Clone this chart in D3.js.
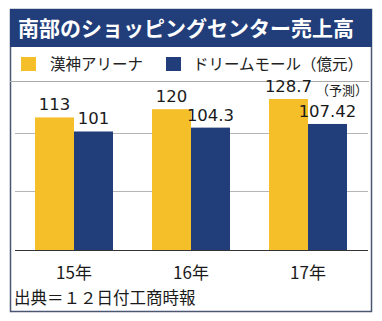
<!DOCTYPE html>
<html>
<head>
<meta charset="utf-8">
<script src="https://cdn.jsdelivr.net/npm/d3@7"></script>
<style>
  body { margin: 0; background: #fff; }
  svg { display: block; font-family: "Noto Sans CJK JP", "Noto Sans", sans-serif; }
</style>
</head>
<body>
<div id="chart"></div>
<script>
var years = ['15年', '16年', '17年'];
var seriesNames = ['漢神アリーナ', 'ドリームモール（億元）'];
var arena = [113, 120, 128.7];
var dream = [101, 104.3, 107.42];
var arenaLabels = ['113', '120', '128.7'];
var dreamLabels = ['101', '104.3', '107.42'];
var gridTicks = [50, 100];

var width = 382;
var height = 321;
var yellow = '#f5bf2a';
var navy = '#213e7b';

var svg = d3.select('#chart')
  .append('svg')
  .attr('width', width)
  .attr('height', height);

// frame and title band
svg.append('rect')
  .attr('x', 10.5).attr('y', 9.5)
  .attr('width', 361).attr('height', 302)
  .attr('fill', '#fff')
  .attr('stroke', '#4a5672')
  .attr('stroke-width', 1.5);

svg.append('rect')
  .attr('x', 10).attr('y', 9)
  .attr('width', 362).attr('height', 38)
  .attr('fill', navy);

svg.append('text')
  .attr('x', 18).attr('y', 36)
  .attr('fill', '#fff')
  .attr('font-size', 21)
  .attr('font-weight', 'bold')
  .text('南部のショッピングセンター売上高');

// legend
var legendX = [21, 166];
var legendTextX = [50, 193];
seriesNames.forEach(function (name, i) {
  svg.append('rect')
    .attr('x', legendX[i]).attr('y', 57)
    .attr('width', 15).attr('height', 14)
    .attr('fill', i === 0 ? yellow : navy);
  svg.append('text')
    .attr('x', legendTextX[i]).attr('y', 70)
    .attr('font-size', 15.5)
    .attr('fill', '#222')
    .text(name);
});

svg.append('line')
  .attr('x1', 10).attr('x2', 369)
  .attr('y1', 81.5).attr('y2', 81.5)
  .attr('stroke', '#aaa');

// scales
var x0 = d3.scaleBand()
  .domain(years)
  .range([15.5, 366.5])
  .paddingInner(1 / 3)
  .paddingOuter(1 / 6);

var x1 = d3.scaleBand()
  .domain([0, 1])
  .range([0, x0.bandwidth()]);

var y = d3.scaleLinear()
  .domain([0, 150])
  .range([250, 74]);

// gridlines
svg.selectAll('.grid')
  .data(gridTicks)
  .enter()
  .append('line')
  .attr('x1', 15).attr('x2', 368)
  .attr('y1', function (d) { return Math.round(y(d)) + 0.5; })
  .attr('y2', function (d) { return Math.round(y(d)) + 0.5; })
  .attr('stroke', '#b5b5b5');

var rows = years.map(function (yr, i) {
  return [
    { year: yr, s: 0, v: arena[i], label: arenaLabels[i] },
    { year: yr, s: 1, v: dream[i], label: dreamLabels[i] }
  ];
});

var groups = svg.selectAll('.group')
  .data(rows)
  .enter()
  .append('g')
  .attr('transform', function (d) { return 'translate(' + x0(d[0].year) + ',0)'; });

groups.selectAll('rect')
  .data(function (d) { return d; })
  .enter()
  .append('rect')
  .attr('x', function (d) { return x1(d.s); })
  .attr('y', function (d) { return y(d.v); })
  .attr('width', x1.bandwidth())
  .attr('height', function (d) { return y(0) - y(d.v); })
  .attr('fill', function (d) { return d.s === 0 ? yellow : navy; });

groups.selectAll('.val')
  .data(function (d) { return d; })
  .enter()
  .append('text')
  .attr('x', function (d) { return x1(d.s) + x1.bandwidth() / 2; })
  .attr('y', function (d) { return y(d.v) - 7; })
  .attr('text-anchor', 'middle')
  .attr('font-size', 16.5)
  .attr('font-family', 'DejaVu Sans, sans-serif')
  .attr('fill', '#1a1a1a')
  .text(function (d) { return d.label; });

svg.append('text')
  .attr('x', 368).attr('y', 95)
  .attr('text-anchor', 'end')
  .attr('font-size', 13)
  .attr('fill', '#1a1a1a')
  .text('（予測）');

// baseline
svg.append('line')
  .attr('x1', 15).attr('x2', 368)
  .attr('y1', 250.5).attr('y2', 250.5)
  .attr('stroke', '#333')
  .attr('stroke-width', 1.2);

// category labels
svg.selectAll('.cat')
  .data(years)
  .enter()
  .append('text')
  .attr('x', function (d) { return x0(d) + x0.bandwidth() / 2; })
  .attr('y', 279)
  .attr('text-anchor', 'middle')
  .attr('font-size', 17)
  .attr('fill', '#1a1a1a')
  .text(function (d) { return d; });

svg.append('text')
  .attr('x', 14).attr('y', 304)
  .attr('font-size', 16.5)
  .attr('fill', '#1a1a1a')
  .text('出典＝１２日付工商時報');
</script>
</body>
</html>
